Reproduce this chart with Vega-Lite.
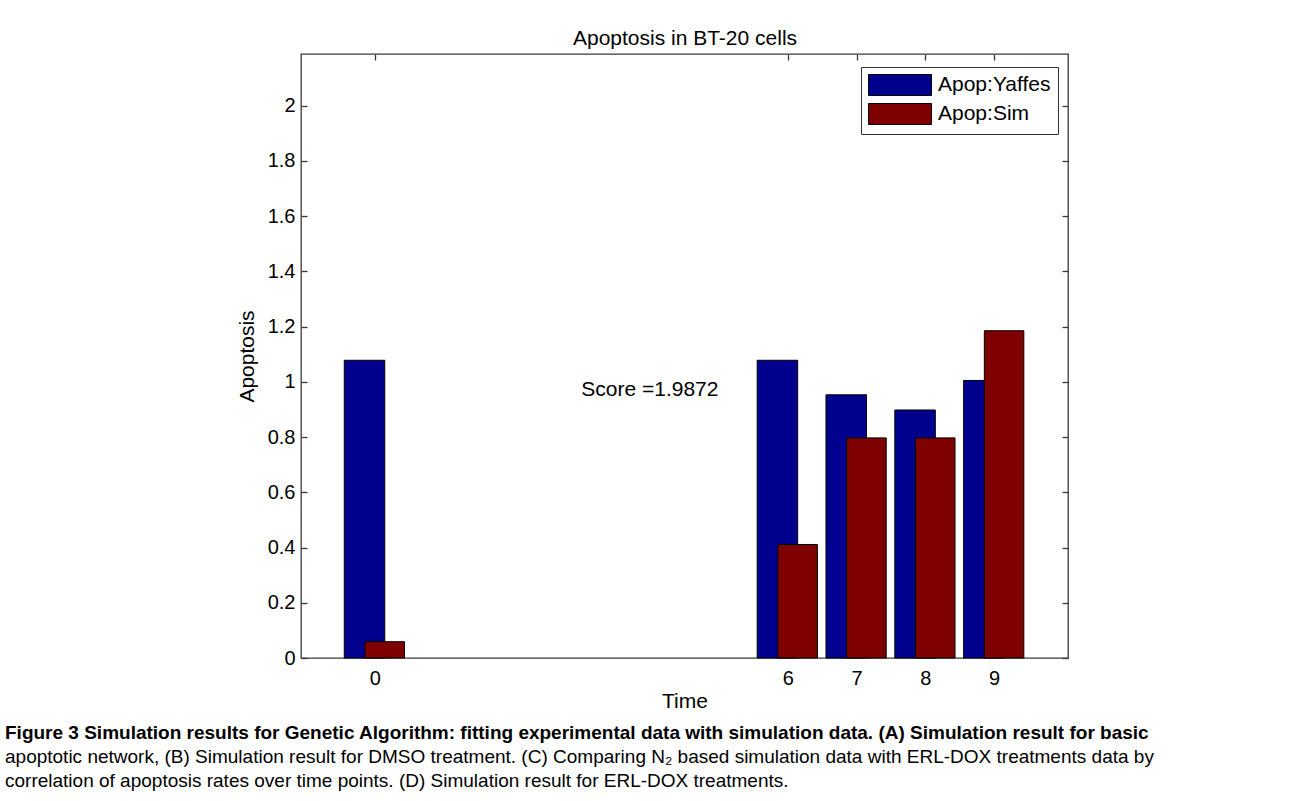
{
  "$schema": "https://vega.github.io/schema/vega-lite/v6.json",
  "width": 767,
  "height": 604,
  "autosize": {"type": "none"},
  "padding": {"left": 301, "top": 54, "right": 224, "bottom": 143},
  "background": "white",
  "config": {
    "view": {"stroke": "#3a3a3a", "strokeWidth": 1.3},
    "font": "Liberation Sans",
    "axis": {
      "domain": false,
      "grid": false,
      "tickColor": "#3a3a3a",
      "tickWidth": 1.3,
      "tickSize": -6,
      "labelFont": "Liberation Sans",
      "labelFontSize": 20,
      "labelColor": "black",
      "titleFont": "Liberation Sans",
      "titleFontSize": 21,
      "titleFontWeight": "normal",
      "titleColor": "black"
    }
  },
  "data": {
    "values": [
      {"time": 0, "series": "Apop:Yaffes", "value": 1.078},
      {"time": 0, "series": "Apop:Sim", "value": 0.059},
      {"time": 6, "series": "Apop:Yaffes", "value": 1.078},
      {"time": 6, "series": "Apop:Sim", "value": 0.411},
      {"time": 7, "series": "Apop:Yaffes", "value": 0.953},
      {"time": 7, "series": "Apop:Sim", "value": 0.797},
      {"time": 8, "series": "Apop:Yaffes", "value": 0.898},
      {"time": 8, "series": "Apop:Sim", "value": 0.797},
      {"time": 9, "series": "Apop:Yaffes", "value": 1.005},
      {"time": 9, "series": "Apop:Sim", "value": 1.185}
    ]
  },
  "title": {
    "text": "Figure 3 Simulation results for Genetic Algorithm: fitting experimental data with simulation data. (A) Simulation result for basic",
    "subtitle": [
      "apoptotic network, (B) Simulation result for DMSO treatment. (C) Comparing N₂ based simulation data with ERL-DOX treatments data by",
      "correlation of apoptosis rates over time points. (D) Simulation result for ERL-DOX treatments."
    ],
    "orient": "bottom",
    "anchor": "start",
    "frame": "group",
    "dx": -296,
    "offset": 13,
    "font": "Liberation Sans",
    "fontSize": 19,
    "fontWeight": "bold",
    "color": "black",
    "subtitleFont": "Liberation Sans",
    "subtitleFontSize": 19,
    "subtitleFontWeight": "normal",
    "subtitleColor": "black",
    "subtitleLineHeight": 24,
    "subtitlePadding": 5
  },
  "layer": [
    {
      "transform": [{"filter": "datum.series === 'Apop:Yaffes'"}],
      "mark": {"type": "bar", "width": 40.5, "xOffset": -10.3, "stroke": "black", "strokeWidth": 1},
      "encoding": {
        "x": {
          "field": "time", "type": "quantitative",
          "scale": {"domain": [-1, 10], "nice": false, "zero": false},
          "axis": {"orient": "bottom", "values": [0, 6, 7, 8, 9], "title": "Time", "labelPadding": 16, "titlePadding": 2}
        },
        "y": {
          "field": "value", "type": "quantitative",
          "scale": {"domain": [0, 2.187], "nice": false},
          "axis": {"orient": "left", "values": [0, 0.2, 0.4, 0.6, 0.8, 1, 1.2, 1.4, 1.6, 1.8, 2], "format": "~g", "title": "Apoptosis", "labelPadding": 12, "titlePadding": 10}
        },
        "color": {
          "field": "series", "type": "nominal",
          "scale": {"domain": ["Apop:Yaffes", "Apop:Sim"], "range": ["#00008f", "#7f0000"]},
          "legend": {
            "orient": "none", "legendX": 560, "legendY": 13, "title": null,
            "fillColor": "white", "strokeColor": "#333333", "padding": 7,
            "symbolType": "M-1,-1H5V1H-1Z", "symbolSize": 441,
            "symbolStrokeColor": "black", "symbolStrokeWidth": 1, "symbolOpacity": 1,
            "labelFont": "Liberation Sans", "labelFontSize": 21, "labelColor": "black",
            "labelOffset": 48, "rowPadding": 3
          }
        }
      }
    },
    {
      "transform": [{"filter": "datum.series === 'Apop:Sim'"}],
      "mark": {"type": "bar", "width": 39.5, "xOffset": 9.9, "stroke": "black", "strokeWidth": 1},
      "encoding": {
        "x": {
          "field": "time", "type": "quantitative",
          "axis": {"orient": "top", "values": [0, 6, 7, 8, 9], "labels": false, "title": "Apoptosis in BT-20 cells", "titlePadding": 5}
        },
        "y": {
          "field": "value", "type": "quantitative",
          "axis": {"orient": "right", "values": [0, 0.2, 0.4, 0.6, 0.8, 1, 1.2, 1.4, 1.6, 1.8, 2], "labels": false, "title": null}
        },
        "color": {"field": "series", "type": "nominal"}
      }
    },
    {
      "data": {"values": [{"time": 3, "value": 0.972, "label": "Score =1.9872"}]},
      "mark": {"type": "text", "align": "left", "baseline": "middle", "fontSize": 21, "font": "Liberation Sans", "color": "black"},
      "encoding": {
        "x": {"field": "time", "type": "quantitative", "axis": null},
        "y": {"field": "value", "type": "quantitative", "axis": null},
        "text": {"field": "label"}
      }
    }
  ],
  "resolve": {"axis": {"x": "independent", "y": "independent"}}
}
